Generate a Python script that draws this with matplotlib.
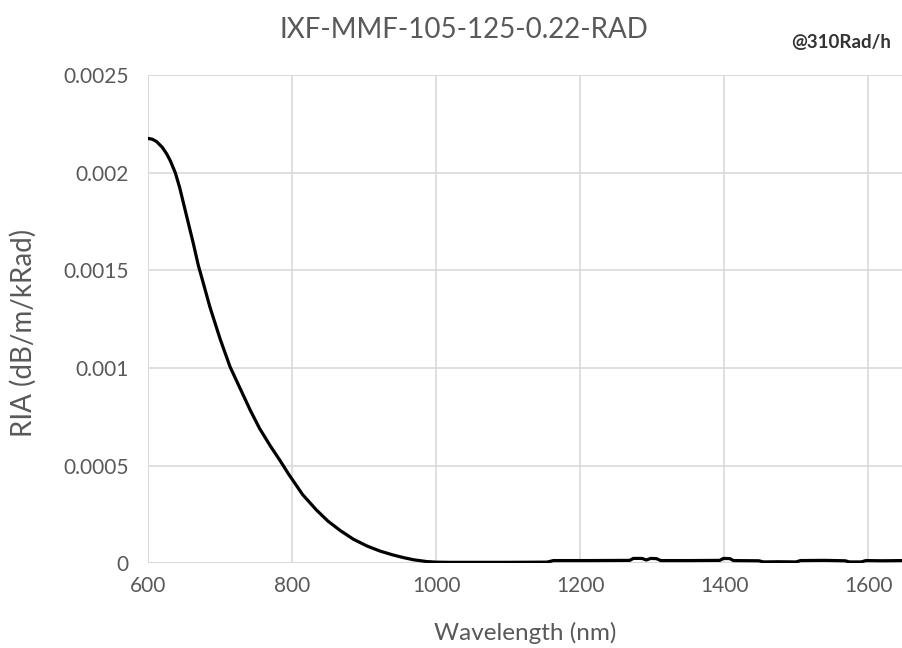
import numpy as np
import matplotlib
matplotlib.use("Agg")
import matplotlib.pyplot as plt

# RIA spectrum
wavelength = [600, 606, 612, 620, 626, 631, 638, 644, 654, 663, 670, 677, 686,
              700, 714, 728, 742, 755, 770, 783, 795, 802, 815, 834, 850, 867,
              885, 904, 922, 940, 955, 969, 987, 1000, 1019, 1060, 1100, 1154,
              1163, 1210, 1269, 1274, 1286, 1292, 1298, 1306, 1312, 1350, 1394,
              1399, 1408, 1413, 1448, 1455, 1475, 1500, 1506, 1540, 1568, 1574,
              1590, 1597, 1620, 1647]
ria = [0.002176, 0.002172, 0.002160, 0.002130, 0.002097, 0.002062, 0.002000,
       0.001925, 0.001774, 0.001638, 0.001525, 0.001433, 0.001313, 0.001151,
       0.001006, 0.000895, 0.000784, 0.000690, 0.000600, 0.000528, 0.000458,
       0.000420, 0.000350, 0.000272, 0.000215, 0.000167, 0.000123, 0.000088,
       0.000062, 0.000042, 0.000028, 0.000017, 0.000008, 0.000005, 0.000004,
       0.000004, 0.000004, 0.000005, 0.000013, 0.000013, 0.000014, 0.000024,
       0.000024, 0.000016, 0.000024, 0.000023, 0.000013, 0.000013, 0.000014,
       0.000024, 0.000023, 0.000013, 0.000012, 0.000006, 0.000007, 0.000006,
       0.000013, 0.000014, 0.000012, 0.000006, 0.000006, 0.000013, 0.000012,
       0.000013]

xticks = [600, 800, 1000, 1200, 1400, 1600]
yticks = [0, 0.0005, 0.001, 0.0015, 0.002, 0.0025]
ytick_labels = ["0", "0.0005", "0.001", "0.0015", "0.002", "0.0025"]

plt.rcParams['font.family'] = ['Lato', 'DejaVu Sans']
textcolor = "#595959"
gridcolor = "#d9d9d9"

fig = plt.figure(figsize=(9.02, 6.48), dpi=100)
ax = fig.add_axes([0.164, 0.131, 0.836, 0.753])

ax.plot(wavelength, ria, color="black", lw=2.3, solid_capstyle="round")

ax.set_xlim(600, 1647)
ax.set_ylim(0, 0.0025)
ax.set_xticks(xticks)
ax.set_yticks(yticks)
ax.set_yticklabels(ytick_labels)
ax.tick_params(length=0, labelsize=15, colors=textcolor)
ax.tick_params(axis="y", pad=14)
ax.tick_params(axis="x", pad=9)
ax.grid(True, color=gridcolor, lw=1.2)
ax.set_axisbelow(True)
for s in ax.spines.values():
    s.set_visible(False)
ax.axvline(600, color=gridcolor, lw=1.2, zorder=0)
ax.axhline(0, color=gridcolor, lw=1.5, zorder=0)
ax.axhline(0.0025, color=gridcolor, lw=1.2, zorder=0)

ax.set_xlabel("Wavelength (nm)", fontsize=17.5, color=textcolor)
ax.set_ylabel("RIA (dB/m/kRad)", fontsize=20, color=textcolor)
ax.xaxis.set_label_coords(0.5, -0.121)
ax.yaxis.set_label_coords(-0.147, 0.471)

fig.text(464 / 902, 1 - 30 / 648, "IXF-MMF-105-125-0.22-RAD", fontsize=20,
         color=textcolor, ha="center", va="center")
fig.text(841 / 902, 1 - 42 / 648, "@310Rad/h", fontsize=13.5, fontweight="bold",
         color="#333333", ha="center", va="center")

fig.savefig("out.png", dpi=100)
